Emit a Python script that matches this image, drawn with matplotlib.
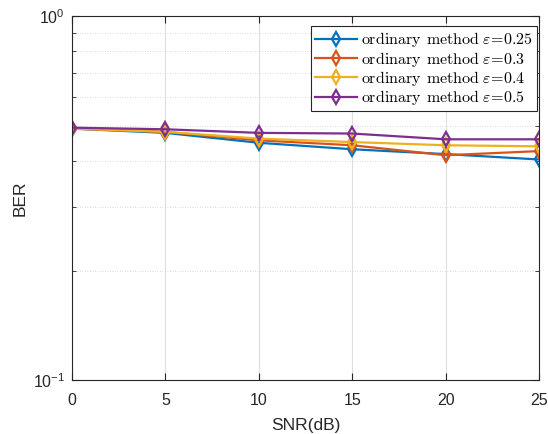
import matplotlib
matplotlib.use("Agg")
import matplotlib.pyplot as plt
from matplotlib.ticker import LogLocator, NullFormatter

snr = [0, 5, 10, 15, 20, 25]
eps_labels = ["0.25", "0.3", "0.4", "0.5"]
ber_025 = [0.491, 0.478, 0.449, 0.431, 0.418, 0.404]
ber_03 = [0.491, 0.481, 0.456, 0.442, 0.415, 0.426]
ber_04 = [0.491, 0.481, 0.461, 0.451, 0.442, 0.439]
ber_05 = [0.494, 0.489, 0.478, 0.476, 0.459, 0.459]

colors = ["#0072bd", "#d95319", "#edb120", "#7e2f8e"]

plt.rcParams["font.family"] = ["Liberation Sans", "DejaVu Sans"]
plt.rcParams["mathtext.fontset"] = "cm"

fig = plt.figure(figsize=(5.48, 4.34), dpi=100)
ax = fig.add_axes([0.1314, 0.1234, 0.8522, 0.8396])

for ber, lab, c in zip([ber_025, ber_03, ber_04, ber_05], eps_labels, colors):
    # trailing \; leaves some room between the text and the legend frame
    ax.plot(snr, ber, color=c, lw=1.6, marker="d", markersize=7,
            markerfacecolor="none", markeredgewidth=1.6,
            label=r"$\mathrm{ordinary\;\,method}\;\varepsilon\!=\!" + lab + r"\;\;\;$")

ax.set_yscale("log")
ax.set_xlim(0, 25)
ax.set_ylim(0.1, 1)
ax.set_xticks(snr)
ax.yaxis.set_minor_locator(LogLocator(base=10, subs=range(2, 10)))
ax.yaxis.set_minor_formatter(NullFormatter())

ax.grid(True, which="major", color="#dedede", lw=0.8)
ax.grid(True, which="minor", axis="y", color="#cfcfcf", lw=0.6, ls=(0, (1, 2)))
ax.set_axisbelow(True)

ax.tick_params(which="both", direction="in", top=True, right=True,
               labelsize=11.5, color="#262626", labelcolor="#262626")
ax.tick_params(which="major", length=5)
ax.tick_params(axis="x", which="major", pad=9)
ax.tick_params(axis="y", which="major", pad=5)
ax.tick_params(which="minor", length=3)
for s in ax.spines.values():
    s.set_color("#262626")
    s.set_linewidth(0.8)

ax.set_xlabel("SNR(dB)", fontsize=12.5, color="#262626", labelpad=7)
ax.set_ylabel("BER", fontsize=12.5, color="#262626", labelpad=4)

leg = ax.legend(loc="upper right", bbox_to_anchor=(0.996, 0.972),
                prop={"size": 11.5}, fancybox=False, framealpha=1,
                edgecolor="#262626", handlelength=2.6, borderaxespad=0,
                labelspacing=0.02, borderpad=0.25, handletextpad=0.3)
leg.get_frame().set_linewidth(0.8)

fig.savefig("out.png", dpi=100)
